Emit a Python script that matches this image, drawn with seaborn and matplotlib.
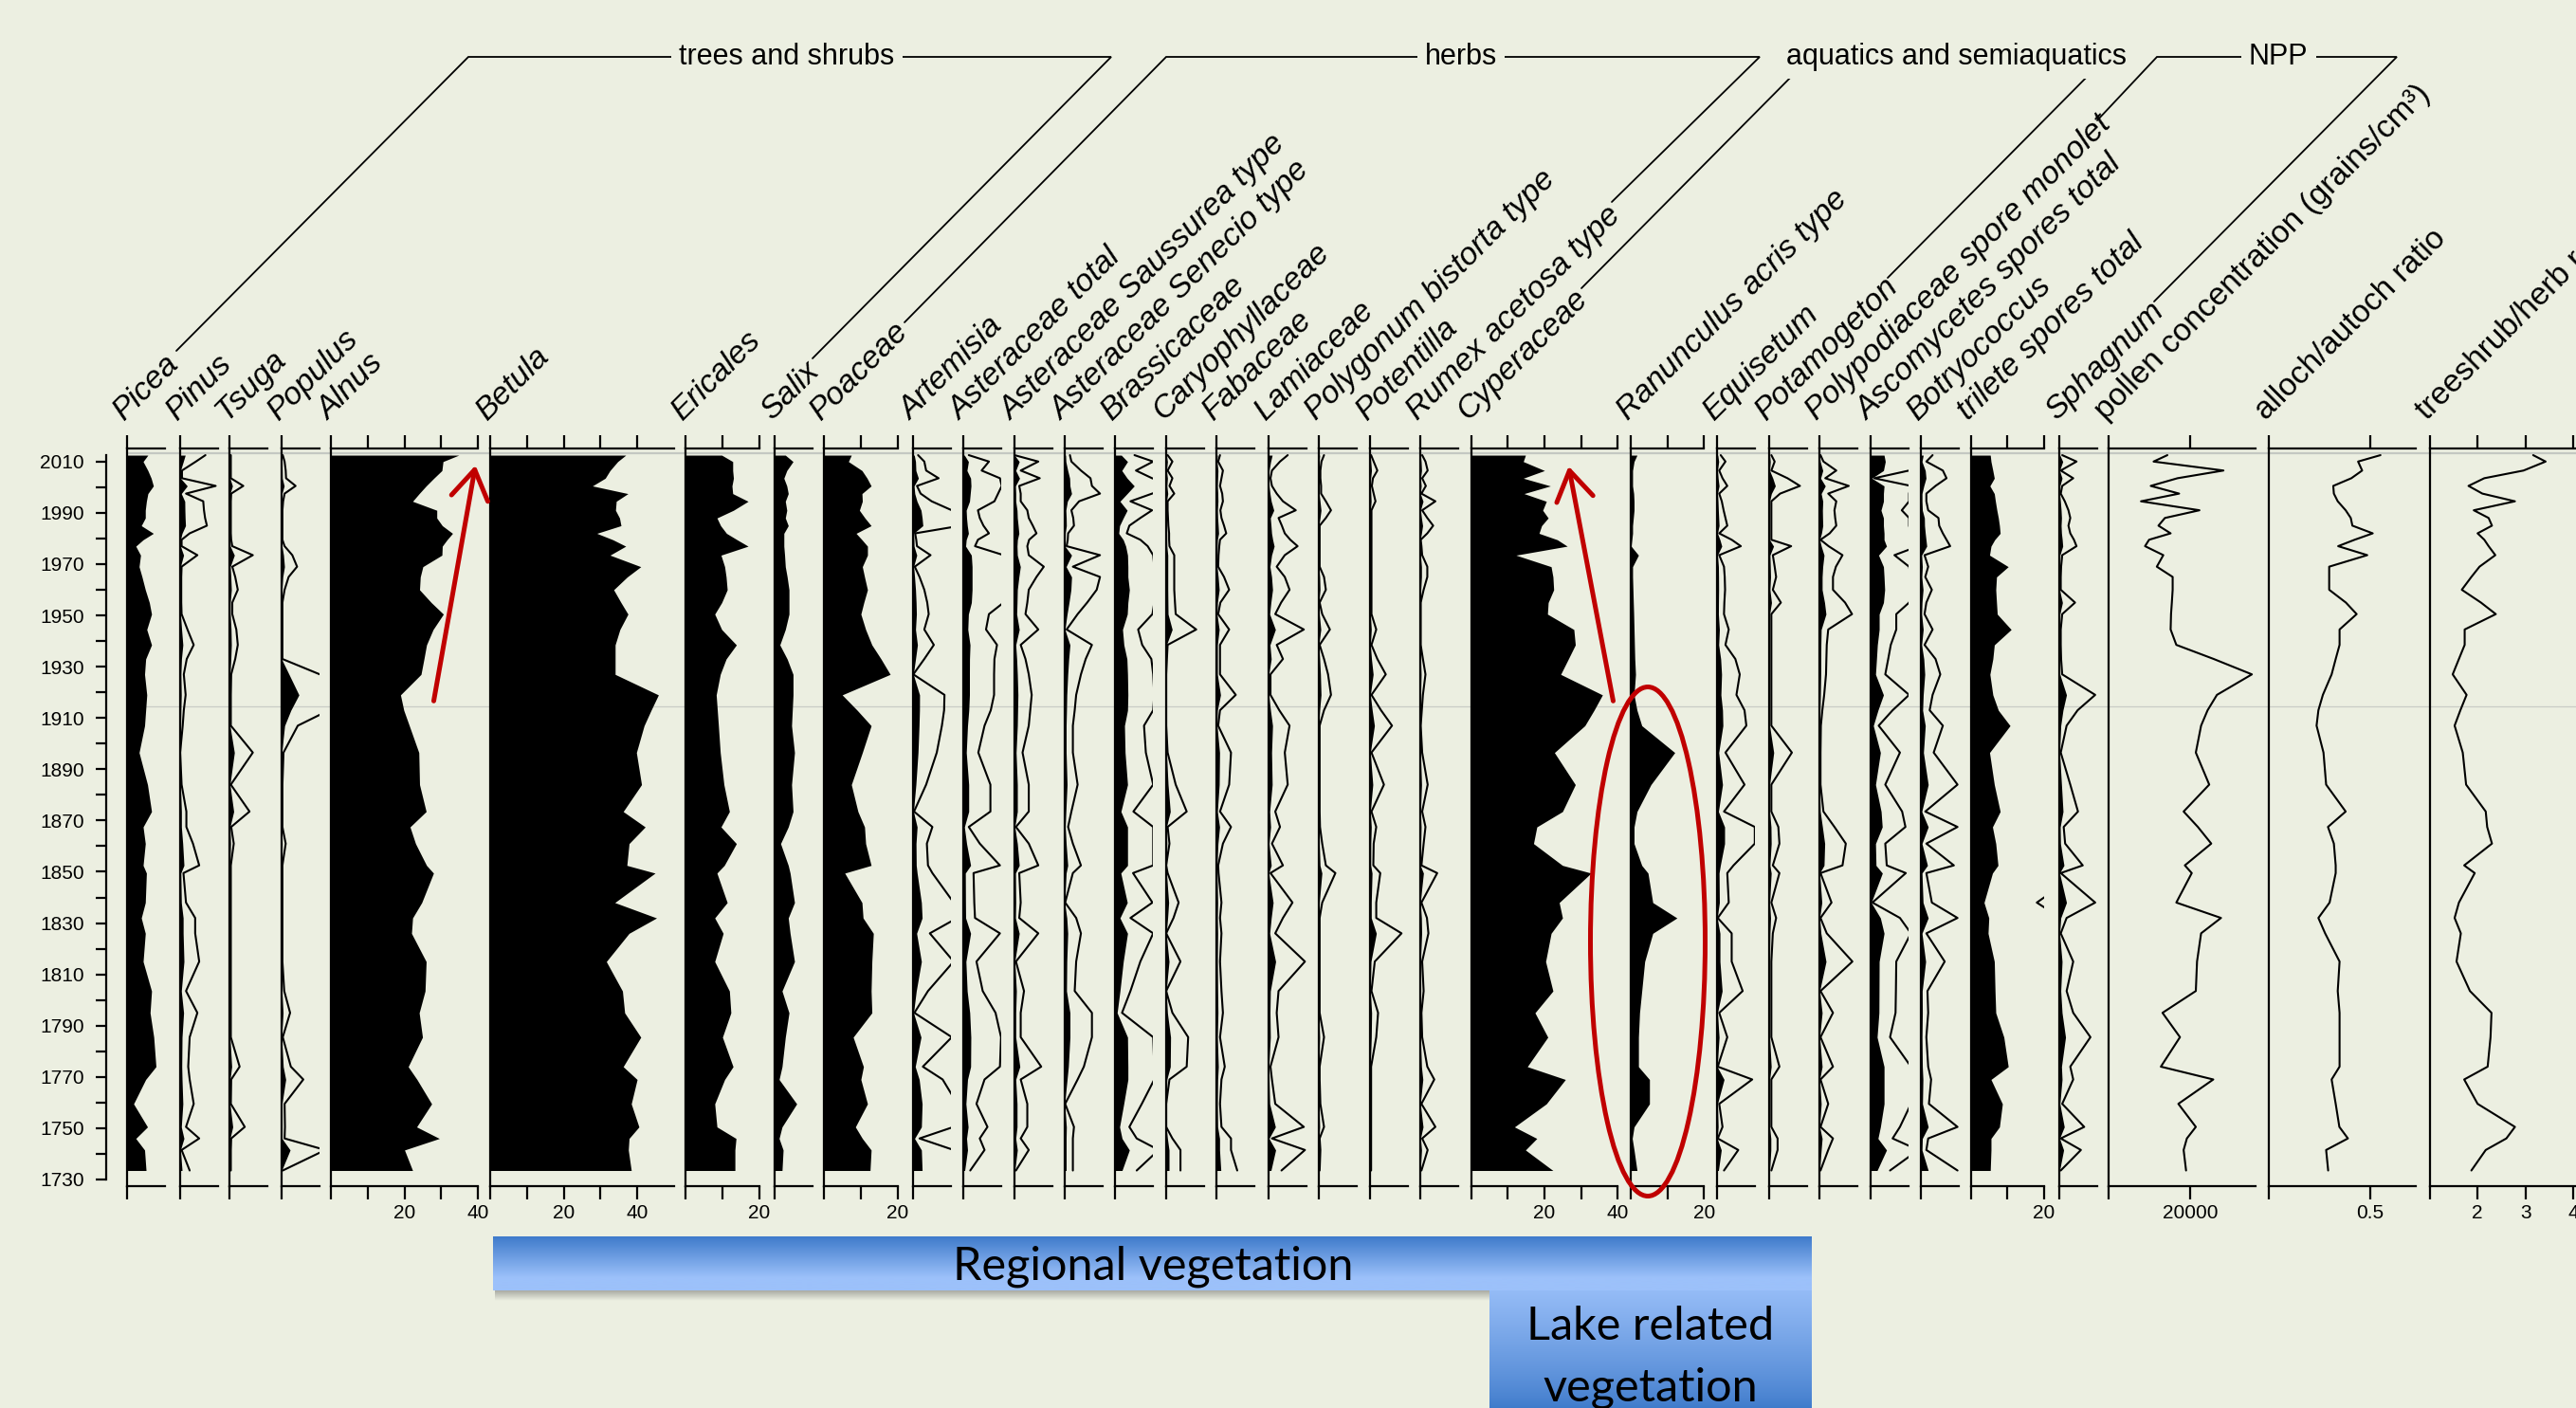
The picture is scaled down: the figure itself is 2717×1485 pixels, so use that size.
import numpy as np
import matplotlib
matplotlib.use("Agg")
import matplotlib.pyplot as plt
import seaborn as sns
from matplotlib.patches import Ellipse, FancyArrowPatch
from matplotlib.colors import LinearSegmentedColormap

# sample ages (years AD), shared by every curve
years = [2012.5, 2010, 2006.5, 2003.5, 2000.5, 1997.5, 1994.5, 1991, 1988, 1985,
         1982, 1979.5, 1977, 1973.5, 1969, 1965, 1960, 1955, 1950.5, 1944.5,
         1938.5, 1933, 1927, 1919, 1913, 1907, 1896.5, 1884, 1873.5, 1867.5,
         1861, 1852.5, 1849.5, 1838, 1832, 1826, 1815, 1803.5, 1795, 1785.5,
         1774, 1769, 1759.5, 1750.5, 1746, 1741.5, 1733.5]

# percentages (silhouette curves)
picea = [5.6, 4.3, 5.6, 6.5, 7.1, 5.6, 5.2, 4.9, 4.9, 3.8, 7.1, 4.3, 2.3, 3.6, 3.2, 4.0, 4.9, 6.0, 6.6, 5.3,
         6.6, 5.0, 4.7, 5.3, 5.0, 4.7, 3.2, 5.5, 6.6, 4.3, 4.9, 4.3, 5.2, 4.9, 3.8, 4.9, 4.3, 6.6, 6.2, 7.2,
         7.8, 5.0, 1.7, 5.5, 2.3, 4.7, 5.1]
alnus = [34.8, 30.5, 30.2, 28.0, 25.9, 24.0, 22.2, 28.8, 28.8, 30.3, 33.1, 31.6, 30.3, 30.2, 25.0, 24.3,
         24.1, 27.3, 30.6, 27.8, 26.0, 25.3, 24.5, 18.9, 19.8, 21.3, 23.9, 24.1, 25.9, 21.5, 23.0, 26.0,
         27.9, 24.7, 22.2, 21.9, 25.9, 25.6, 24.0, 24.9, 21.0, 23.4, 27.4, 23.3, 29.5, 20.0, 22.2]
betula = [36.9, 34.7, 32.6, 31.3, 27.8, 37.5, 34.3, 34.1, 35.2, 35.6, 29.0, 33.4, 36.9, 32.6, 41.0, 37.3,
          33.6, 35.6, 37.5, 35.3, 34.0, 34.0, 34.0, 45.8, 43.8, 41.9, 39.8, 41.2, 36.2, 42.2, 37.8, 37.2,
          44.9, 33.9, 45.3, 37.8, 31.6, 36.0, 36.6, 41.0, 36.2, 40.0, 38.4, 40.5, 37.8, 37.6, 38.4]
ericales = [9.8, 12.8, 12.8, 13.0, 12.6, 12.8, 17.0, 13.0, 8.5, 9.5, 11.1, 14.0, 17.0, 9.6, 10.6, 11.0,
            11.3, 9.8, 7.9, 9.8, 13.8, 11.0, 9.4, 8.3, 8.6, 8.9, 9.4, 10.4, 11.9, 9.6, 13.8, 10.5, 8.5,
            11.3, 7.9, 10.2, 7.9, 11.9, 12.3, 10.0, 12.9, 10.6, 7.9, 8.5, 13.7, 13.4, 13.4]
salix = [3.0, 5.1, 3.4, 2.6, 3.4, 3.8, 3.0, 3.4, 3.0, 3.8, 2.6, 2.6, 2.6, 2.8, 3.0, 3.5, 4.0, 4.0, 4.0, 3.0,
         1.5, 3.5, 5.1, 5.1, 4.9, 4.7, 5.5, 4.7, 5.1, 3.8, 1.7, 3.8, 4.3, 5.5, 3.8, 4.3, 5.5, 2.1, 4.0, 3.0,
         2.1, 1.3, 6.1, 2.1, 1.3, 2.4, 2.1]
poaceae = [7.4, 6.6, 10.3, 11.7, 12.8, 10.3, 10.4, 9.6, 11.1, 12.8, 8.7, 10.3, 11.8, 11.8, 10.4, 11.0,
           11.8, 10.8, 10.0, 11.3, 13.0, 15.5, 18.0, 4.9, 9.0, 12.8, 10.4, 7.4, 9.2, 11.0, 11.3, 12.8, 5.6,
           10.3, 10.6, 13.4, 13.0, 12.8, 13.0, 7.9, 10.7, 10.0, 11.8, 8.5, 10.4, 12.8, 12.5]
cyperaceae = [14.8, 14.2, 20.0, 14.2, 21.6, 14.4, 20.5, 19.5, 21.0, 19.2, 18.5, 23.5, 26.2, 12.2, 21.8,
              22.3, 22.5, 21.0, 20.8, 28.0, 28.4, 26.5, 24.4, 35.8, 33.5, 31.0, 22.7, 28.4, 24.9, 17.9,
              17.0, 24.9, 32.7, 24.0, 24.9, 21.8, 20.3, 22.3, 17.4, 20.9, 15.3, 25.7, 20.5, 11.8, 17.9,
              14.8, 22.3]
ranunculus = [1.7, 0.9, 0.5, 0.5, 0.5, 0.8, 0.9, 0.9, 0.7, 0.5, 0.5, 0.3, 0.1, 2.1, 0.5, 0.5, 0.6, 0.7,
              0.8, 0.9, 1.0, 1.1, 1.3, 0.9, 1.7, 3.0, 12.0, 5.5, 1.7, 0.9, 0.9, 3.0, 4.7, 6.0, 12.6, 6.0,
              3.8, 3.0, 2.4, 2.1, 2.1, 5.1, 5.1, 0.9, 0.4, 0.9, 1.7]
trilete = [5.3, 5.5, 6.0, 6.4, 5.2, 6.4, 6.7, 7.1, 7.5, 7.8, 8.0, 6.5, 5.5, 5.1, 10.2, 7.0, 6.8, 7.0, 7.2,
           11.0, 6.4, 6.0, 5.2, 6.0, 7.5, 10.7, 5.1, 6.4, 8.0, 5.9, 6.8, 7.4, 5.9, 3.6, 4.9, 4.7, 6.4, 6.6,
           6.8, 9.0, 10.2, 5.5, 8.6, 7.8, 5.5, 5.5, 5.3]

# exaggerated curves (the silhouette underneath is the real value)
pinus = [6.9, 4.3, 0.5, 0.5, 9.7, 1.6, 6.3, 6.5, 6.8, 7.3, 2.6, 0.4, 0.4, 4.7, 0.4, 0.3, 0.3, 0.3, 0.4, 2.0,
         3.7, 1.8, 1.0, 1.5, 1.0, 0.7, 0.0, 0.4, 1.7, 1.7, 3.5, 5.2, 0.9, 1.6, 4.1, 4.1, 5.2, 1.6, 4.7, 2.6,
         2.2, 2.6, 3.7, 1.6, 5.2, 0.4, 2.6]
tsuga = [0.3, 0.3, 0.3, 0.3, 3.7, 0.4, 0.3, 0.3, 0.3, 0.3, 0.3, 0.4, 0.7, 6.3, 0.7, 1.5, 2.2, 0.7, 0.7, 1.8,
         2.2, 1.5, 0.4, 0.3, 0.3, 0.3, 6.3, 0.3, 5.4, 0.4, 1.1, 0.3, 0.3, 0.3, 0.3, 0.3, 0.3, 0.3, 0.3, 0.3,
         2.7, 0.4, 0.3, 4.1, 0.4, 0.3, 0.3]
populus = [0.4, 0.9, 1.2, 1.3, 3.9, 0.9, 0.5, 0.3, 0.3, 0.3, 0.3, 0.3, 0.9, 3.0, 4.3, 2.0, 0.9, 0.3, 0.3,
           0.3, 0.3, 0.3, 10.5, 24.0, 13.0, 4.5, 0.6, 0.3, 0.3, 0.3, 1.2, 0.3, 0.3, 0.3, 0.3, 0.3, 0.3, 0.8,
           2.4, 0.4, 2.6, 6.0, 0.9, 1.0, 0.9, 12.0, 0.4]
artemisia = [1.3, 3.0, 3.5, 6.9, 1.0, 2.0, 5.0, 10.5, 12.0, 13.0, 0.5, 0.8, 1.0, 4.7, 0.4, 1.7, 3.0, 3.8,
             4.2, 3.0, 5.6, 3.0, 0.0, 8.5, 8.4, 7.8, 6.4, 3.5, 0.2, 5.2, 3.7, 4.0, 5.2, 11.0, 12.0, 4.5,
             11.0, 4.0, 0.3, 10.5, 2.6, 8.0, 12.0, 11.0, 1.7, 11.0, 12.0]
ast_total = [1.5, 7.0, 5.0, 10.0, 10.5, 9.5, 8.5, 4.0, 4.5, 5.5, 7.0, 4.0, 3.2, 11.0, 12.0, 12.0, 12.0,
             11.0, 7.0, 6.2, 9.2, 8.5, 8.4, 8.4, 7.5, 5.8, 4.1, 7.4, 7.4, 1.5, 4.5, 10.0, 2.8, 3.0, 3.2,
             10.0, 3.6, 5.3, 8.8, 10.3, 10.0, 5.8, 3.6, 6.6, 4.5, 5.8, 1.9]
saussurea = [0.0, 6.5, 1.7, 6.9, 1.3, 1.7, 1.7, 3.5, 3.9, 5.0, 6.0, 4.0, 3.5, 3.9, 8.0, 6.0, 3.9, 3.5, 3.0,
             6.5, 1.7, 3.0, 3.9, 4.7, 4.3, 3.9, 2.2, 3.9, 3.9, 0.4, 3.9, 6.5, 1.3, 1.7, 1.3, 6.5, 0.4, 2.6,
             1.7, 1.7, 7.3, 1.7, 3.5, 3.5, 1.7, 3.9, 0.4]
senecio = [1.5, 1.9, 4.5, 7.1, 7.5, 9.7, 4.0, 1.9, 2.4, 2.6, 1.0, 0.9, 0.6, 9.7, 2.3, 9.7, 8.8, 6.2, 3.6,
           0.6, 7.5, 5.8, 4.5, 3.2, 2.8, 2.3, 2.3, 3.6, 1.9, 1.0, 2.3, 4.5, 2.3, 0.2, 3.2, 4.5, 3.2, 2.8,
           7.5, 7.5, 5.3, 3.6, 0.2, 2.6, 2.3, 2.3, 2.3]
brassicaceae = [5.4, 10.5, 5.8, 10.2, 16.0, 10.2, 4.3, 10.2, 7.0, 4.0, 3.3, 7.0, 9.0, 10.5, 10.8, 10.8,
                12.0, 10.8, 10.3, 6.4, 7.5, 10.0, 10.5, 10.8, 10.5, 8.0, 8.5, 10.5, 5.1, 10.5, 10.5, 10.5,
                5.0, 10.3, 4.3, 10.5, 7.0, 4.3, 2.0, 10.5, 10.8, 10.8, 7.4, 4.0, 6.0, 12.0, 6.0]
caryophyllaceae = [0.4, 1.7, 0.4, 1.7, 0.9, 2.2, 0.4, 0.4, 0.5, 0.6, 0.8, 0.8, 0.9, 2.2, 2.2, 2.2, 2.2,
                   2.4, 2.6, 8.2, 0.4, 0.2, 0.0, 0.0, 0.0, 0.0, 0.4, 2.6, 5.6, 0.4, 0.9, 0.0, 0.4, 3.4,
                   2.0, 0.0, 3.9, 0.0, 1.7, 6.0, 5.6, 0.9, 0.0, 0.0, 1.7, 3.9, 3.9]
fabaceae = [0.9, 0.4, 1.7, 1.3, 0.9, 1.5, 1.7, 1.0, 1.3, 2.0, 2.6, 0.9, 0.7, 0.5, 0.4, 2.0, 3.4, 1.0, 0.4,
            3.4, 0.9, 0.9, 0.9, 5.2, 0.9, 0.4, 3.9, 3.4, 0.9, 3.9, 1.7, 0.4, 0.5, 1.3, 0.9, 1.3, 0.9, 1.3,
            1.7, 0.9, 2.2, 1.3, 0.9, 1.3, 3.9, 3.9, 5.6]
lamiaceae = [5.3, 3.2, 1.0, 0.6, 1.0, 2.3, 4.0, 7.5, 2.8, 3.7, 4.5, 6.0, 8.0, 4.5, 2.3, 4.5, 5.8, 3.5, 1.9,
             9.7, 2.3, 4.0, 0.6, 0.6, 3.0, 5.8, 4.5, 5.3, 1.9, 3.2, 1.0, 4.0, 0.6, 6.6, 4.0, 1.9, 10.0,
             2.8, 2.3, 2.8, 0.6, 1.0, 1.9, 9.7, 1.0, 10.0, 3.6]
polygonum = [1.5, 0.8, 0.5, 0.5, 0.7, 0.7, 2.0, 3.4, 2.0, 0.3, 0.3, 0.3, 0.3, 0.3, 0.3, 1.5, 2.0, 0.3,
             1.0, 3.1, 0.3, 1.5, 2.6, 3.4, 1.5, 0.3, 0.3, 0.3, 0.3, 0.4, 1.0, 2.0, 4.6, 1.0, 0.3, 0.3, 0.3,
             0.3, 0.3, 1.5, 0.3, 0.3, 0.5, 1.5, 0.3, 0.5, 0.3]
potentilla = [0.3, 1.0, 2.0, 0.8, 0.5, 1.0, 1.5, 0.4, 0.4, 0.4, 0.4, 0.4, 0.4, 0.4, 0.4, 0.4, 0.4, 0.4,
              0.4, 1.7, 0.4, 2.0, 4.3, 0.4, 3.0, 6.0, 0.4, 3.8, 0.4, 1.7, 1.0, 0.9, 2.8, 1.7, 1.7, 8.6,
              1.3, 0.4, 2.2, 1.7, 0.3, 0.3, 0.3, 0.3, 0.3, 0.3, 0.3]
rumex = [0.6, 1.5, 2.1, 0.6, 1.6, 0.4, 4.2, 0.6, 2.0, 3.6, 2.0, 0.2, 0.4, 0.6, 2.0, 2.0, 1.0, 0.2, 0.2,
         0.2, 0.2, 0.8, 1.5, 0.8, 0.5, 0.2, 0.6, 2.1, 0.6, 1.5, 1.0, 0.4, 4.7, 0.4, 1.9, 2.3, 0.6, 1.0, 0.4,
         0.6, 2.0, 3.9, 0.4, 4.2, 0.6, 2.1, 0.4]
equisetum = [1.0, 2.3, 0.6, 1.5, 2.8, 0.6, 1.3, 1.8, 2.3, 2.8, 0.6, 4.0, 6.5, 0.6, 1.9, 2.1, 2.2, 2.0,
             1.9, 3.2, 2.3, 5.0, 6.2, 5.3, 7.5, 8.0, 2.3, 7.5, 1.9, 10.3, 10.3, 4.5, 2.8, 3.2, 0.2, 4.0,
             4.0, 7.0, 0.6, 2.8, 0.2, 9.6, 0.6, 1.5, 0.2, 5.8, 1.9]
potamogeton = [0.6, 1.5, 0.6, 5.0, 8.4, 3.0, 0.6, 0.6, 0.6, 0.6, 0.6, 0.6, 6.0, 1.0, 1.5, 1.9, 1.0, 3.2,
               0.6, 0.6, 0.6, 0.6, 0.6, 0.6, 0.6, 0.6, 6.2, 0.6, 0.6, 2.5, 2.8, 1.0, 2.8, 0.6, 1.9, 1.0,
               0.6, 0.6, 0.6, 0.6, 2.8, 0.6, 0.6, 0.6, 2.3, 2.3, 0.6]
polypodiaceae = [0.3, 1.1, 4.6, 1.6, 8.0, 2.4, 4.6, 4.1, 4.3, 4.6, 2.8, 0.3, 2.5, 6.3, 4.5, 3.7, 3.7, 7.0,
                 8.9, 2.4, 2.0, 1.9, 1.8, 1.3, 0.8, 0.4, 0.3, 0.3, 1.1, 4.1, 7.2, 6.3, 0.3, 3.3, 0.3, 2.0,
                 9.0, 0.3, 3.7, 0.3, 3.7, 0.3, 2.4, 0.3, 3.7, 2.4, 0.3]
ascomycetes = [11, 12, 10.5, 1, 11, 10.5, 10.5, 8.5, 10.5, 10.5, 11, 11, 13, 6.5, 10.5, 11, 11.5, 10.5,
               7, 7, 5.5, 4.8, 4, 10.5, 6, 2.2, 8, 4, 8.6, 9.5, 4, 4.4, 9.6, 0.5, 8, 11, 7, 6.9, 6.8,
               5.3, 11, 11, 11, 8, 6, 13, 5.3]
botryococcus = [3.2, 1.5, 6.0, 7.0, 4.0, 1.5, 1.5, 2.0, 4.8, 5.0, 6.0, 7.0, 8.0, 1.0, 2.0, 1.2, 3.0, 1.5,
                1.0, 3.2, 1.0, 4.0, 5.3, 3.2, 2.4, 6.0, 3.5, 10.0, 1.2, 10.0, 1.5, 9.0, 1.5, 3.0, 10.0,
                1.5, 6.5, 1.8, 2.0, 1.5, 2.0, 2.8, 2.2, 10.0, 2.0, 1.5, 10.0]
sphagnum = [0.8, 4.7, 0.4, 3.8, 0.8, 0.4, 1.5, 2.5, 3.0, 2.5, 3.0, 4.0, 4.7, 0.8, 0.5, 0.4, 0.4, 4.3, 0.8,
            0.4, 0.4, 0.5, 0.8, 9.8, 5.0, 2.0, 0.4, 3.0, 5.1, 1.2, 1.6, 6.4, 0.4, 9.8, 2.0, 0.4, 3.8, 2.0,
            3.8, 8.5, 3.0, 3.8, 0.8, 6.8, 0.4, 5.9, 0.4]

# other curves
pollen_conc = [14400, 11000, 28200, 16900, 10300, 17300, 7900, 22300, 13800, 12200, 15200, 9900, 8900,
               13400, 11800, 15700, 15700, 15500, 15300, 15200, 16600, 25800, 35200, 26600, 24300,
               22700, 21400, 24700, 18400, 21900, 25200, 18700, 20400, 16600, 27600, 22700, 21700,
               21400, 13200, 17500, 12800, 25700, 17100, 21400, 19200, 18400, 19000]
alloch = [0.550, 0.440, 0.460, 0.407, 0.318, 0.321, 0.340, 0.379, 0.404, 0.412, 0.512, 0.423, 0.342,
          0.485, 0.298, 0.298, 0.298, 0.380, 0.433, 0.349, 0.349, 0.330, 0.310, 0.267, 0.245, 0.236,
          0.270, 0.283, 0.379, 0.292, 0.321, 0.330, 0.330, 0.300, 0.245, 0.278, 0.349, 0.340, 0.349,
          0.349, 0.349, 0.310, 0.330, 0.348, 0.390, 0.283, 0.293]
treeshrub = [3.16, 3.42, 2.96, 2.14, 1.81, 2.10, 2.78, 1.92, 2.23, 2.30, 2.00, 2.14, 2.23, 2.37, 2.04,
             1.87, 1.67, 2.07, 2.38, 1.73, 1.73, 1.61, 1.48, 1.77, 1.64, 1.52, 1.69, 1.76, 2.17, 2.20,
             2.30, 1.72, 1.94, 1.61, 1.52, 1.65, 1.56, 1.84, 2.29, 2.27, 2.21, 1.72, 2.00, 2.78, 2.60,
             2.17, 1.87]

W, H = 2717, 1485
BG = "#ECEFE1"
RED = "#C00000"
PX_PCT = 3.867            # pixels per percent
Y_TOP, Y_BOT = 473, 1251  # pixel rows of the top / bottom axes
YR_TOP, YR_BOT = 2015.1, 1727.4

t4 = [0, 10, 20, 30, 40]
l4 = ["", "", "20", "", "40"]
t2 = [0, 10, 20]
l2 = ["", "", "20"]

panels = [
    dict(name="Picea", data=picea, left=134.3, fill=1.0, line=None),
    dict(name="Pinus", data=pinus, left=190.0),
    dict(name="Tsuga", data=tsuga, left=242.3),
    dict(name="Populus", data=populus, left=296.7),
    dict(name="Alnus", data=alnus, left=349.3, xmax=40, fill=1.0, line=None, ticks=t4, labels=l4),
    dict(name="Betula", data=betula, left=517.3, xmax=50, fill=1.0, line=None, ticks=t4, labels=l4),
    dict(name="Ericales", data=ericales, left=723.3, xmax=20, fill=1.0, line=None, ticks=t2, labels=l2),
    dict(name="Salix", data=salix, left=816.7, fill=1.0, line=None),
    dict(name="Poaceae", data=poaceae, left=869.3, xmax=20, fill=1.0, line=None, ticks=t2, labels=l2),
    dict(name="Artemisia", data=artemisia, left=963.3),
    dict(name="Asteraceae total", data=ast_total, left=1016.0),
    dict(name="Asteraceae Saussurea type", data=saussurea, left=1070.0),
    dict(name="Asteraceae Senecio type", data=senecio, left=1122.7),
    dict(name="Brassicaceae", data=brassicaceae, left=1175.7, fill=1 / 3),
    dict(name="Caryophyllaceae", data=caryophyllaceae, left=1230.0),
    dict(name="Fabaceae", data=fabaceae, left=1283.3),
    dict(name="Lamiaceae", data=lamiaceae, left=1337.7),
    dict(name="Polygonum bistorta type", data=polygonum, left=1390.7),
    dict(name="Potentilla", data=potentilla, left=1445.0),
    dict(name="Rumex acetosa type", data=rumex, left=1497.7),
    dict(name="Cyperaceae", data=cyperaceae, left=1551.7, xmax=40, fill=1.0, line=None, ticks=t4, labels=l4),
    dict(name="Ranunculus acris type", data=ranunculus, left=1720.0, xmax=20, fill=1.0, line=None,
         ticks=t2, labels=l2),
    dict(name="Equisetum", data=equisetum, left=1811.0),
    dict(name="Potamogeton", data=potamogeton, left=1866.0),
    dict(name="Polypodiaceae spore monolet", data=polypodiaceae, left=1919.0),
    dict(name="Ascomycetes spores total", data=ascomycetes, left=1973.0, fill=1 / 3),
    dict(name="Botryococcus", data=botryococcus, left=2026.0),
    dict(name="trilete spores total", data=trilete, left=2078.7, xmax=20, fill=1.0, line=5.0,
         ticks=t2, labels=l2),
    dict(name="Sphagnum", data=sphagnum, left=2172.0),
    dict(name="pollen concentration (grains/cm³)", data=pollen_conc, left=2224.3, width=154.7,
         xlim=(0, 36100), fill=None, line=1.0, ticks=[0, 20000], labels=["", "20000"], italic=False),
    dict(name="alloch/autoch ratio", data=alloch, left=2392.7, width=155.0, xlim=(0, 0.722),
         fill=None, line=1.0, ticks=[0, 0.5], labels=["", "0.5"], italic=False),
    dict(name="treeshrub/herb ratio", data=treeshrub, left=2562.7, width=177.3, xlim=(1, 4.51),
         fill=None, line=1.0, ticks=[1, 2, 3, 4], labels=["", "2", "3", "4"], italic=False),
]

sns.set_style("white", {"axes.edgecolor": "black", "xtick.color": "black", "ytick.color": "black",
                        "text.color": "black", "axes.labelcolor": "black"})
plt.rcParams["font.family"] = ["Liberation Sans", "DejaVu Sans"]

fig = plt.figure(figsize=(W / 100, H / 100), dpi=100, facecolor=BG)


def px_axes(left, top, width, height, z=2):
    return fig.add_axes([left / W, 1 - (top + height) / H, width / W, height / H], zorder=z)


# background: light grey guide lines
bg = px_axes(0, 0, W, H, z=0)
bg.set_xlim(0, W)
bg.set_ylim(H, 0)
bg.axis("off")
bg.plot([134, W], [478, 478], color="#C4C8C2", lw=1.6)
bg.plot([134, W], [744.5, 744.5], color="#C9CCC6", lw=0.9)

yrs = np.array(years)
for p in panels:
    vals = np.array(p["data"], dtype=float)
    xmax = p.get("xmax", 10.3)
    xlim = p.get("xlim", (0, xmax))
    width = p.get("width", (xlim[1] - xlim[0]) * PX_PCT)
    ax = px_axes(p["left"], Y_TOP, width, Y_BOT - Y_TOP)
    ax.set_facecolor("none")
    fs = p.get("fill", 0.2)
    ls = p.get("line", 1.0)
    if fs is not None:
        ax.fill_betweenx(yrs, xlim[0], vals * fs, color="black", lw=0)
    if ls is not None:
        sns.lineplot(x=vals * ls, y=yrs, orient="y", sort=True, estimator=None, errorbar=None,
                     color="black", lw=1.5, ax=ax, legend=False)
    ax.set_xlim(*xlim)
    ax.set_ylim(YR_BOT, YR_TOP)
    ax.set_xlabel("")
    ax.set_ylabel("")
    ax.spines["right"].set_visible(False)
    for s in ("left", "top", "bottom"):
        ax.spines[s].set_linewidth(1.6)
    ax.set_yticks([])
    ax.set_xticks(p.get("ticks", [0]))
    ax.set_xticklabels(p.get("labels", [""]))
    ax.tick_params(axis="x", direction="out", length=10, width=1.6, top=True, bottom=True,
                   labeltop=False, labelbottom=True, labelsize=15, pad=4)

# age axis
ay = px_axes(112, Y_TOP, 2, Y_BOT - Y_TOP)
ay.set_facecolor("none")
ay.set_ylim(YR_BOT, YR_TOP)
ay.set_xlim(0, 1)
for s in ("right", "top", "bottom"):
    ay.spines[s].set_visible(False)
ay.spines["left"].set_linewidth(1.6)
ay.spines["left"].set_bounds(1730, 2012.5)
ay.set_xticks([])
ay.set_yticks(np.arange(1730, 2011, 20))
ay.set_yticks(np.arange(1740, 2001, 20), minor=True)
ay.tick_params(axis="y", which="both", direction="out", length=8, width=1.6, left=True,
               labelsize=15, pad=8.5)

# overlay: labels, group brackets, annotations
ov = px_axes(0, 0, W, H, z=10)
ov.set_facecolor("none")
ov.axis("off")

for p in panels:
    ov.text(p["left"] - 3, 444, p["name"], rotation=45, rotation_mode="anchor", ha="left",
            va="baseline", fontsize=24, style="italic" if p.get("italic", True) else "normal")

groups = [
    ("trees and shrubs", 830, [(186, 370), (494, 60), (1172, 60), (857, 378)]),
    ("herbs", 1541, [(954, 340), (1230, 60), (1856, 60), (1700, 213)]),
    ("aquatics and semiaquatics", 2063, [(1668, 304), (1910, 60), (2222, 60), (1991, 293)]),
    ("NPP", 2403, [(2212, 127), (2275, 60), (2528, 60), (2272, 318)]),
]
for text, cx, pts in groups:
    xs, ys = zip(*pts)
    ov.plot(xs, ys, color="black", lw=1.3, solid_joinstyle="miter")
    ov.text(cx, 60, text, ha="center", va="center", fontsize=22,
            bbox=dict(facecolor=BG, edgecolor="none", pad=6))

# red highlights
for a, b in [((457, 742), (502, 488)), ((1702, 742), (1654, 489))]:
    ov.add_patch(FancyArrowPatch(a, b, arrowstyle="->,head_length=0.55,head_width=0.35",
                                 mutation_scale=40, color=RED, lw=3.6, zorder=20))
ov.add_patch(Ellipse((1738, 993), 121, 537, fill=False, ec=RED, lw=3.6, zorder=20))

# blue gradient boxes
blue = LinearSegmentedColormap.from_list("blue", ["#3F7BCB", "#9CC1FA"])
grad = np.linspace(0, 1, 120).reshape(-1, 1)
ov.imshow(np.linspace(0.9, 0.0, 120).reshape(-1, 1) ** 0.8, cmap=blue, vmin=0, vmax=1,
          extent=(1571, 1911, 1485, 1361), aspect="auto", origin="upper", zorder=3)
shadow = np.zeros((20, 1, 4))
shadow[..., :3] = 0.35
shadow[:, 0, 3] = np.linspace(0.45, 0.0, 20)
ov.imshow(shadow, extent=(522, 1571, 1372, 1361), aspect="auto", origin="upper", zorder=2)
ov.imshow(np.clip(grad * 1.3, 0, 1), cmap=blue, vmin=0, vmax=1,
          extent=(520, 1911, 1361, 1304), aspect="auto", origin="upper", zorder=4)
ov.text(1216, 1350, "Regional vegetation", ha="center", va="baseline", fontsize=35,
        family=["Lato", "DejaVu Sans"], zorder=6)
ov.text(1741, 1413, "Lake related", ha="center", va="baseline", fontsize=35,
        family=["Lato", "DejaVu Sans"], zorder=6)
ov.text(1741, 1477, "vegetation", ha="center", va="baseline", fontsize=35,
        family=["Lato", "DejaVu Sans"], zorder=6)

ov.set_xlim(0, W)
ov.set_ylim(H, 0)

fig.savefig("out.png", dpi=100, facecolor=BG)
